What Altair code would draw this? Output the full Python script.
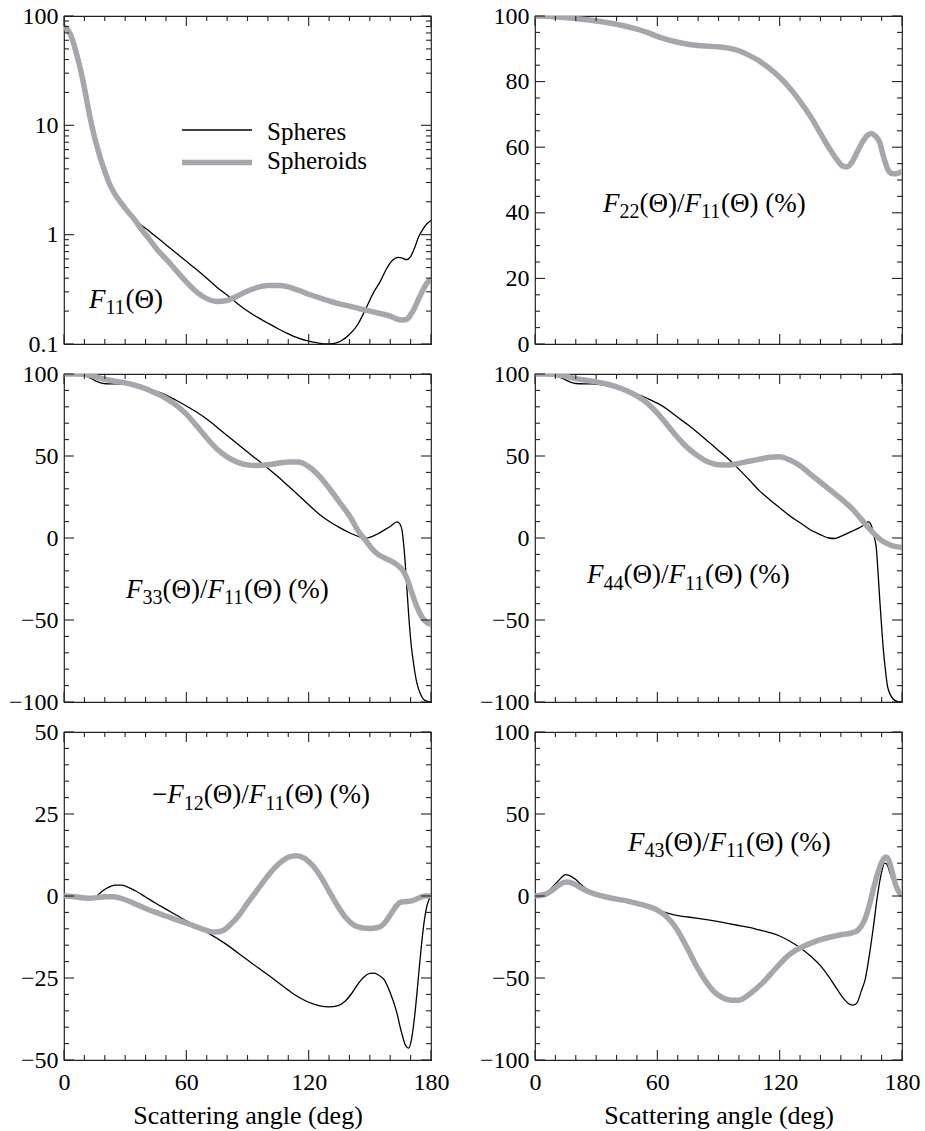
import altair as alt
import pandas as pd

FONT = "Liberation Serif"
GRAY = "#a6a6ad"
FRAME = "#222222"
PW, PH = 367, 328

# ---------------- phase-matrix elements vs scattering angle (deg) ----------------
# F11 (log scale)
F11_SPH_ANG = [0, 2, 4, 6, 8, 10, 12, 14, 16, 18, 20, 22, 25, 28, 31, 34, 38, 42, 46, 50, 55, 60,
               65, 70, 75, 80, 85, 90, 95, 100, 105, 110, 115, 120, 125, 128, 132, 136, 140, 144,
               148, 152, 155, 158, 161, 164, 166, 168, 170, 172, 174, 176, 178, 180]
F11_SPH_VAL = [80, 74, 62, 46, 33, 22, 14, 9.2, 6.3, 4.6, 3.5, 2.8, 2.25, 1.9, 1.62, 1.42, 1.22,
               1.07, 0.93, 0.81, 0.68, 0.57, 0.48, 0.40, 0.33, 0.28, 0.235, 0.2, 0.175, 0.155,
               0.138, 0.124, 0.113, 0.106, 0.102, 0.1, 0.101, 0.107, 0.122, 0.15, 0.21, 0.3,
               0.37, 0.48, 0.58, 0.62, 0.61, 0.59, 0.63, 0.76, 0.96, 1.12, 1.26, 1.35]
F11_SPD_ANG = [0, 2, 4, 6, 8, 10, 12, 14, 16, 18, 20, 22, 25, 28, 31, 34, 38, 42, 46, 50, 55, 60,
               65, 70, 75, 80, 85, 90, 95, 100, 105, 110, 115, 120, 125, 130, 135, 140, 145, 150,
               155, 160, 163, 166, 168, 170, 172, 174, 176, 178, 180]
F11_SPD_VAL = [80, 74, 62, 46, 33, 22, 14, 9.3, 6.6, 4.9, 3.8, 3.0, 2.35, 1.95, 1.65, 1.42, 1.12,
               0.9, 0.72, 0.6, 0.47, 0.37, 0.3, 0.26, 0.245, 0.25, 0.275, 0.305, 0.33, 0.342,
               0.343, 0.333, 0.31, 0.285, 0.265, 0.248, 0.233, 0.222, 0.21, 0.2, 0.19, 0.18,
               0.17, 0.166, 0.168, 0.185, 0.215, 0.26, 0.31, 0.36, 0.39]

# F22/F11 (%), spheroids only
F22_SPD_ANG = [0, 10, 20, 30, 40, 50, 55, 60, 65, 70, 75, 80, 85, 90, 95, 100, 105, 110, 115, 120,
               125, 130, 135, 140, 145, 148, 151, 153, 155, 158, 161, 163, 165, 167, 169, 171,
               173, 175, 177, 180]
F22_SPD_VAL = [100, 99.8, 99.2, 98.5, 97.5, 96.0, 95.0, 93.8, 92.8, 92.0, 91.4, 91.0, 90.8, 90.6,
               90.2, 89.4, 88.0, 86.3, 84.0, 81.3, 78.0, 74.0, 69.5, 64.2, 59.0, 56.3, 54.2, 54.0,
               55.0, 58.5, 62.0, 63.6, 64.2, 63.4, 61.5, 57.0, 53.3, 52.0, 51.9, 52.6]

# F33/F11 (%)
F33_SPH_ANG = [0, 5, 10, 13, 16, 19, 22, 26, 30, 35, 40, 45, 50, 55, 60, 65, 70, 75, 80, 85, 90,
               95, 100, 105, 110, 115, 120, 125, 130, 135, 140, 145, 147, 151, 154, 157, 160,
               163.3, 164.8, 165.8, 166.6, 167.4, 168.2, 169, 170.2, 171.5, 173, 174.8, 177, 180]
F33_SPH_VAL = [100, 100, 99.2, 97.5, 95.5, 94.3, 94.0, 94.0, 93.8, 92.8, 91.3, 89.5, 87.2, 84.0,
               80.5, 76.8, 72.5, 67.6, 62.5, 57.4, 52.4, 47.5, 42.6, 37.3, 31.7, 26.1, 20.3, 14.7,
               10.2, 6.5, 3.2, 0.6, -0.3, 0.9, 2.6, 4.8, 7.0, 9.8, 8.5, 4.6, -4, -16, -31, -46,
               -64, -77, -88, -95, -99, -100]
F33_SPD_ANG = [0, 5, 10, 15, 20, 25, 30, 35, 40, 45, 50, 55, 60, 65, 70, 75, 80, 85, 90, 95, 100,
               105, 110, 115, 120, 125, 130, 135, 140, 145, 148, 151, 154, 157, 160, 163, 166,
               168, 170, 172, 174, 176, 178, 180]
F33_SPD_VAL = [100, 100, 99.8, 98.5, 96.8, 95.6, 94.6, 93.0, 91.0, 88.3, 85.2, 81.0, 75.5, 68.5,
               61.0, 54.3, 49.5, 46.3, 44.6, 44.2, 44.6, 45.6, 46.4, 46.3, 43.5, 38.0, 30.5, 22.0,
               13.5, 3.0, -1.5, -6.5, -10.0, -12.0, -13.8, -16.0, -19.5, -24.0, -31, -38.5, -44.5,
               -49, -51.5, -52.7]

# F44/F11 (%)
F44_SPH_ANG = [0, 5, 10, 14, 17, 20, 24, 28, 32, 36, 40, 45, 50, 55, 60, 65, 70, 75, 80, 85, 90,
               95, 100, 105, 110, 115, 120, 125, 130, 135, 140, 144, 147, 150, 154, 158, 161,
               163.5, 165, 166.4, 167.4, 168.2, 169, 170, 170.7, 172, 173, 175.6, 178, 180]
F44_SPH_VAL = [100, 100, 99.0, 97.0, 95.3, 94.2, 94.0, 94.0, 93.6, 92.8, 91.8, 89.8, 87.8, 85.2,
               82.2, 78.4, 73.6, 69.0, 64.0, 58.7, 53.4, 48.0, 42.0, 35.5, 28.9, 23.5, 18.5, 13.5,
               9.3, 5.0, 2.0, 0.0, -0.3, 1.0, 3.3, 5.6, 7.6, 9.8, 7.5, 0.5, -6, -20, -36, -54,
               -66, -82, -91, -98, -99.8, -100]
F44_SPD_ANG = [0, 5, 10, 15, 20, 25, 30, 35, 40, 45, 50, 55, 60, 65, 70, 75, 80, 85, 90, 95, 100,
               105, 110, 115, 120, 125, 130, 135, 140, 145, 150, 155, 160, 163, 166, 169, 172,
               175, 178, 180]
F44_SPD_VAL = [100, 100, 99.7, 98.6, 97.2, 96.2, 95.2, 93.9, 92.2, 89.8, 86.6, 82.3, 76.2, 68.8,
               61.2, 54.8, 50.0, 46.3, 44.6, 44.5, 45.5, 46.8, 48.0, 49.2, 49.5, 47.5, 44.0, 39.0,
               34.0, 29.0, 24.0, 18.5, 11.5, 7.0, 3.0, -0.5, -3.0, -4.6, -5.4, -5.6]

# -F12/F11 (%)
F12_SPH_ANG = [0, 5, 10, 13, 16, 19, 22, 25, 28, 31, 35, 40, 45, 50, 55, 60, 65, 70, 75, 80, 85,
               90, 95, 100, 105, 110, 115, 120, 125, 130, 134, 138, 141, 144, 147, 150, 152, 154,
               157, 160, 163, 165.5, 167.5, 169, 170.5, 172, 173.5, 175, 176.5, 178, 180]
F12_SPH_VAL = [0, -0.2, -0.6, -0.7, 0.0, 1.6, 2.7, 3.3, 3.3, 2.8, 1.6, -0.3, -2.2, -4.0, -5.8,
               -7.6, -9.3, -11.0, -12.9, -14.9, -17.2, -19.5, -21.8, -24.0, -26.4, -28.7, -30.8,
               -32.4, -33.4, -33.8, -33.5, -32.0, -29.8, -27.0, -24.8, -23.6, -23.5, -24.0, -25.5,
               -29.5, -35.0, -41.5, -45.5, -46.4, -43.5, -36.5, -27, -17, -8.5, -3, 0]
F12_SPD_ANG = [0, 5, 10, 13, 16, 20, 24, 28, 32, 36, 40, 45, 50, 55, 60, 65, 70, 74, 78, 82, 86,
               90, 95, 100, 105, 110, 114, 118, 122, 126, 130, 134, 138, 142, 146, 150, 154, 157,
               160, 163, 165, 168, 171, 174, 177, 180]
F12_SPD_VAL = [0, -0.2, -0.6, -0.7, -0.5, -0.2, -0.2, -0.7, -1.6, -2.7, -3.8, -5.0, -6.1, -7.2,
               -8.3, -9.4, -10.5, -11.0, -10.5, -8.5, -5.7, -2.2, 2.0, 6.2, 9.6, 11.8, 12.3, 11.5,
               9.3, 5.8, 1.5, -2.8, -6.5, -8.8, -9.7, -9.9, -9.6, -8.4, -5.8, -3.0, -1.9, -1.7,
               -1.4, -0.6, 0, 0]

# F43/F11 (%)
F43_SPH_ANG = [0, 3, 6, 9, 12, 15, 17, 20, 23, 26, 30, 35, 40, 45, 50, 55, 60, 65, 70, 75, 80, 85,
               90, 95, 100, 105, 110, 115, 120, 125, 130, 135, 140, 144, 148, 151, 154, 156, 158,
               160, 162, 164, 166, 168, 170, 171.5, 172.5, 174, 176, 178, 180]
F43_SPH_VAL = [0, 0.8, 2.5, 6.0, 10.0, 13.0, 12.4, 10.0, 6.5, 3.7, 1.5, -0.5, -1.9, -3.0, -4.6,
               -6.3, -8.5, -10.4, -11.9, -12.8, -13.7, -14.6, -15.6, -16.8, -18.0, -19.2, -20.7,
               -22.3, -24.4, -27.6, -31.5, -36.4, -42.5, -49.0, -56.5, -62.0, -65.8, -66.6, -65.0,
               -58.0, -50.5, -36.0, -18.5, 0.5, 14.5, 20.0, 19.5, 14.5, 7.5, 2.5, 0.5]
F43_SPD_ANG = [0, 3, 6, 9, 12, 15, 17, 20, 23, 26, 30, 35, 40, 45, 50, 55, 60, 64, 68, 72, 76, 80,
               84, 88, 92, 96, 100, 104, 108, 112, 116, 120, 124, 128, 132, 136, 140, 145, 150,
               155, 158, 160, 162, 164, 166, 168, 170, 172, 173.5, 175, 177, 179, 180]
F43_SPD_VAL = [0, 0.5, 1.5, 4.0, 6.9, 8.5, 8.4, 6.8, 4.6, 2.7, 1.0, -0.6, -1.9, -3.0, -4.5, -6.2,
               -8.6, -12.0, -17.5, -25.5, -35.0, -44.5, -52.5, -58.5, -62.0, -63.5, -63.5, -61.0,
               -57.0, -52.5, -47.0, -41.5, -36.5, -33.0, -30.5, -28.4, -26.6, -25.0, -23.6, -22.6,
               -21.2, -18.5, -13.5, -5.5, 4.5, 13.5, 20.5, 23.8, 22.0, 15.5, 6.5, 1.5, 0.5]

# ---------------- helpers ----------------
ONE = pd.DataFrame({"k": [0]})
GLYPH = {"F": 0.611, "(": 0.333, ")": 0.333, "Θ": 0.722, "/": 0.278, " ": 0.25,
         "%": 0.833, "−": 0.564}
MAIN, SUB = 27, 20


def text_at(x, y, text, size, italic=False):
    kw = dict(text=text, font=FONT, fontSize=size, align="left", baseline="alphabetic",
              color="black")
    if italic:
        kw["fontStyle"] = "italic"
    return alt.Chart(ONE).mark_text(**kw).encode(x=alt.value(x), y=alt.value(y))


def rich_label(x0, y0, parts):
    """parts: (text, italic, subscript) pieces laid out left to right."""
    layers, x = [], x0
    for text, italic, sub in parts:
        size = SUB if sub else MAIN
        layers.append(text_at(x, y0 + (6.5 if sub else 0), text, size, italic))
        x += sum(GLYPH.get(c, 0.5) for c in text) * size
    return layers


def ratio_parts(idx, prefix=None):
    parts = [(prefix, False, False)] if prefix else []
    return parts + [("F", True, False), (idx, False, True), ("(Θ)/", False, False),
                    ("F", True, False), ("11", False, True), ("(Θ) (%)", False, False)]


def panel(sph, spd, ydom, ymajor, yminor, label_layers, ylog=False, bottom=False, extra=()):
    xs = alt.Scale(domain=[0, 180], nice=False, zero=False)
    if ylog:
        ys = alt.Scale(type="log", domain=ydom, nice=False)
        yfmt = "~g"
    else:
        ys = alt.Scale(domain=ydom, nice=False, zero=False)
        yfmt = "d"
    if bottom:
        xaxis = alt.Axis(values=[0, 60, 120, 180], ticks=False, domain=False, grid=False,
                         labelFlush=False, labelPadding=10, title="Scattering angle (deg)",
                         titlePadding=8)
    else:
        xaxis = None
    yaxis = alt.Axis(values=ymajor, ticks=False, domain=False, grid=False, title=None,
                     labelPadding=6, format=yfmt)
    X = alt.X("angle:Q", scale=xs, axis=xaxis)
    Y = alt.Y("value:Q", scale=ys, axis=yaxis)

    layers = []
    # spheres (thin black) underneath, spheroids (thick gray) on top
    if sph is not None:
        layers.append(alt.Chart(pd.DataFrame({"angle": sph[0], "value": sph[1]})).mark_line(
            color="black", strokeWidth=1.3, interpolate="monotone", clip=True).encode(x=X, y=Y))
    if spd is not None:
        layers.append(alt.Chart(pd.DataFrame({"angle": spd[0], "value": spd[1]})).mark_line(
            color=GRAY, strokeWidth=5.5, interpolate="monotone", clip=True).encode(x=X, y=Y))

    # inward tick marks on all four sides
    xmaj = pd.DataFrame({"angle": [0, 60, 120, 180]})
    xmin = pd.DataFrame({"angle": [a for a in range(0, 181, 10) if a % 60]})
    ymj = pd.DataFrame({"value": ymajor})
    ymn = pd.DataFrame({"value": yminor})
    tick = dict(color=FRAME, strokeWidth=1.1)
    for df, L in ((xmaj, 10), (xmin, 5)):
        layers.append(alt.Chart(df).mark_rule(**tick).encode(x=X, y=alt.value(PH), y2=alt.value(PH - L)))
        layers.append(alt.Chart(df).mark_rule(**tick).encode(x=X, y=alt.value(0), y2=alt.value(L)))
    for df, L in ((ymj, 10), (ymn, 5)):
        layers.append(alt.Chart(df).mark_rule(**tick).encode(y=Y, x=alt.value(0), x2=alt.value(L)))
        layers.append(alt.Chart(df).mark_rule(**tick).encode(y=Y, x=alt.value(PW), x2=alt.value(PW - L)))

    layers += list(label_layers) + list(extra)
    return alt.layer(*layers).properties(width=PW, height=PH)


def lin_ticks(lo, hi, step):
    out, v = [], lo
    while v <= hi + 1e-9:
        out.append(v)
        v += step
    return out


# legend drawn inside the first panel
legend = [
    alt.Chart(ONE).mark_rule(color="black", strokeWidth=1.3).encode(
        x=alt.value(118), x2=alt.value(188), y=alt.value(114)),
    alt.Chart(ONE).mark_rule(color=GRAY, strokeWidth=5.5).encode(
        x=alt.value(118), x2=alt.value(188), y=alt.value(146.5)),
    text_at(203, 124, "Spheres", 25),
    text_at(203, 153, "Spheroids", 25),
]

log_minor = [k * 10.0 ** n for n in (-1, 0, 1) for k in range(2, 10)]

p11 = panel((F11_SPH_ANG, F11_SPH_VAL), (F11_SPD_ANG, F11_SPD_VAL), [0.1, 100],
            [0.1, 1, 10, 100], log_minor,
            rich_label(25, 291.5, [("F", True, False), ("11", False, True), ("(Θ)", False, False)]),
            ylog=True, extra=legend)
m20 = lin_ticks(0, 100, 20)
p22 = panel(None, (F22_SPD_ANG, F22_SPD_VAL), [0, 100], m20,
            [v for v in lin_ticks(0, 100, 5) if v not in m20],
            rich_label(68, 195.5, ratio_parts("22")))
m50 = lin_ticks(-100, 100, 50)
n10 = [v for v in lin_ticks(-100, 100, 10) if v not in m50]
p33 = panel((F33_SPH_ANG, F33_SPH_VAL), (F33_SPD_ANG, F33_SPD_VAL), [-100, 100], m50, n10,
            rich_label(62, 223.5, ratio_parts("33")))
p44 = panel((F44_SPH_ANG, F44_SPH_VAL), (F44_SPD_ANG, F44_SPD_VAL), [-100, 100], m50, n10,
            rich_label(52, 209, ratio_parts("44")))
m25 = lin_ticks(-50, 50, 25)
p12 = panel((F12_SPH_ANG, F12_SPH_VAL), (F12_SPD_ANG, F12_SPD_VAL), [-50, 50], m25,
            [v for v in lin_ticks(-50, 50, 5) if v not in m25],
            rich_label(88, 71, ratio_parts("12", prefix="−")), bottom=True)
p43 = panel((F43_SPH_ANG, F43_SPH_VAL), (F43_SPD_ANG, F43_SPD_VAL), [-100, 100], m50, n10,
            rich_label(93, 118.5, ratio_parts("43")), bottom=True)

chart = alt.concat(
    p11, p22, p33, p44, p12, p43, columns=2,
    spacing={"row": 30, "column": 104}, bounds="flush",
).properties(
    padding={"left": 7, "top": 3, "right": 0, "bottom": 0},
).configure(
    font=FONT, background="white",
).configure_axis(
    labelFont=FONT, labelFontSize=24, labelColor="black",
    titleFont=FONT, titleFontSize=26, titleFontWeight="normal", titleColor="black",
).configure_text(
    font=FONT,
).configure_view(
    stroke=FRAME, strokeWidth=1.2,
)

chart.save("out.html", embed_options={"renderer": "svg", "actions": False})
